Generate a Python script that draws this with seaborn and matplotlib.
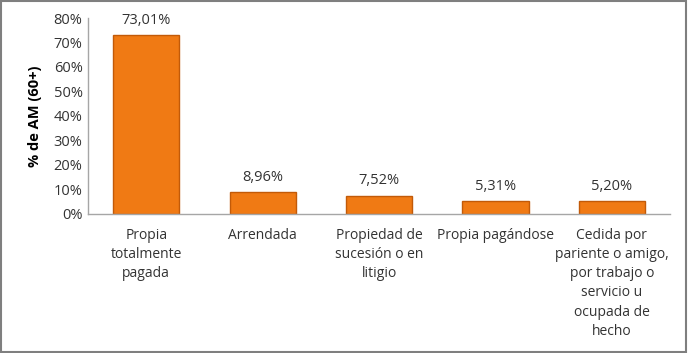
import matplotlib
matplotlib.use("Agg")
import matplotlib.pyplot as plt
import seaborn as sns
import pandas as pd
from matplotlib.patches import Rectangle

categories = ["Propia\ntotalmente\npagada", "Arrendada", "Propiedad de\nsucesión o en\nlitigio",
              "Propia pagándose", "Cedida por\npariente o amigo,\npor trabajo o\nservicio u\nocupada de\nhecho"]
values = [73.01, 8.96, 7.52, 5.31, 5.20]
value_labels = ["73,01%", "8,96%", "7,52%", "5,31%", "5,20%"]
yticks = [0, 10, 20, 30, 40, 50, 60, 70, 80]

sns.set_theme(style="white")
plt.rcParams['font.family'] = ['Open Sans', 'DejaVu Sans']

fig = plt.figure(figsize=(6.88, 3.53), dpi=100)
ax = fig.add_axes([0.128, 0.394, 0.846, 0.555])

df = pd.DataFrame({"cat": categories, "val": values})
sns.barplot(data=df, x="cat", y="val", color="#F07A14", width=0.57, ax=ax,
            edgecolor="#C25A08", linewidth=1.0, saturation=1)

for i, (v, lab) in enumerate(zip(values, value_labels)):
    ax.text(i, v + 3, lab, ha="center", va="bottom", fontsize=10.5, color="#333333")

ax.set_ylim(0, 80)
ax.set_yticks(yticks)
ax.set_yticklabels([f"{t}%" for t in yticks], fontsize=10.5, color="#333333")
ax.set_xticks(range(len(categories)))
ax.set_xticklabels(categories, fontsize=10, color="#333333", linespacing=1.38)
ax.set_xlabel("")
ax.set_ylabel("% de AM (60+)", fontsize=10.5, fontweight="bold", color="#000000", labelpad=8)
ax.tick_params(axis="x", length=0, pad=10)
ax.tick_params(axis="y", length=0, pad=4)
for s in ["top", "right"]:
    ax.spines[s].set_visible(False)
for s in ["left", "bottom"]:
    ax.spines[s].set_color("#A6A6A6")
    ax.spines[s].set_linewidth(1)

fig.patches.append(Rectangle((0.002, 0.003), 0.995, 0.994, transform=fig.transFigure,
                             fill=False, edgecolor="#7F7F7F", linewidth=1.5))
fig.savefig("out.png", dpi=100)
